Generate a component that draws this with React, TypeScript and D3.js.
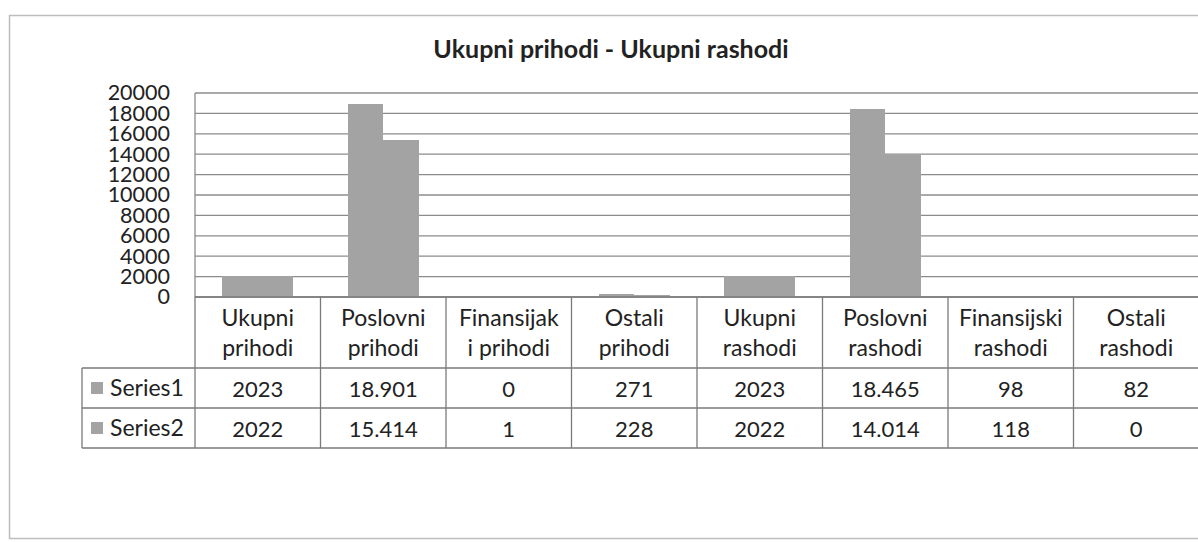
import { useEffect, useRef } from 'react';
import * as d3 from 'd3';

// Categories, as they appear in the data table header (two lines each)
const categories = [
  ['Ukupni', 'prihodi'],
  ['Poslovni', 'prihodi'],
  ['Finansijak', 'i prihodi'],
  ['Ostali', 'prihodi'],
  ['Ukupni', 'rashodi'],
  ['Poslovni', 'rashodi'],
  ['Finansijski', 'rashodi'],
  ['Ostali', 'rashodi'],
];
const seriesNames = ['Series1', 'Series2'];
const series1 = [2023, 18901, 0, 271, 2023, 18465, 98, 82];
const series2 = [2022, 15414, 1, 228, 2022, 14014, 118, 0];
const yTicks = [0, 2000, 4000, 6000, 8000, 10000, 12000, 14000, 16000, 18000, 20000];

const width = 1198;
const height = 542;
const plotLeft = 195;
const plotRight = 1199;
const plotTop = 93;
const plotBottom = 297;
const headerBottom = 368;
const rowH = 40;
const legendLeft = 82;
const font = 'Lato, "Open Sans", sans-serif';
const barColor = '#a3a3a3';
const gridColor = '#8c8c8c';

const grouped = d3.formatLocale({ decimal: ',', thousands: '.', grouping: [3], currency: ['', ''] }).format(',d');
const fmt = (v: number) => (v >= 10000 ? grouped(v) : String(v));

export default function App() {
  const gy = useRef<SVGGElement>(null);
  const keys = categories.map(c => c.join(' '));
  const rows = [series1, series2];

  const x = d3.scaleBand().domain(keys).range([plotLeft, plotRight]);
  const xs = d3.scaleBand().domain(seriesNames).range([0, x.bandwidth()]).paddingOuter(0.77).paddingInner(0);
  const y = d3.scaleLinear().domain([0, 20000]).range([plotBottom, plotTop]);

  useEffect(() => {
    if (gy.current) {
      d3.select(gy.current)
        .call(d3.axisLeft(y).tickValues(yTicks).tickSize(0).tickPadding(25).tickFormat(d => String(d)))
        .call(g => g.select('.domain').remove())
        .call(g => g.selectAll('text').attr('font-family', font).attr('font-size', 21.5).attr('fill', '#222'));
    }
  }, []);

  const cx = (i: number) => (x(keys[i]) ?? 0) + x.bandwidth() / 2;

  return (
    <svg width={width} height={height} style={{ position: 'absolute', left: 0, top: 0, background: '#fff' }}>
      {/* outer chart frame */}
      <rect x={9.5} y={15.5} width={1300} height={523} fill="none" stroke="#bdbdbd" strokeWidth={1.5} />
      <text x={611} y={58} textAnchor="middle" fontFamily={font} fontWeight="bold" fontSize={25} fill="#222">
        Ukupni prihodi - Ukupni rashodi
      </text>

      {/* gridlines */}
      {yTicks.map(t => (
        <line key={t} x1={plotLeft} x2={plotRight} y1={y(t)} y2={y(t)} stroke={gridColor} strokeWidth={1.3} />
      ))}
      <line x1={plotLeft} x2={plotLeft} y1={plotTop} y2={plotBottom} stroke={gridColor} strokeWidth={1.3} />

      {/* bars */}
      <g shapeRendering="crispEdges">
        {rows.map((vals, si) =>
          vals.map((v, i) => {
            const bx = Math.round((x(keys[i]) ?? 0) + (xs(seriesNames[si]) ?? 0));
            const bx2 = Math.round((x(keys[i]) ?? 0) + (xs(seriesNames[si]) ?? 0) + xs.bandwidth());
            return (
              <rect key={`${si}-${i}`} x={bx} y={y(v)} width={bx2 - bx} height={plotBottom - y(v)} fill={barColor} />
            );
          })
        )}
      </g>

      <g ref={gy} transform={`translate(${plotLeft},0)`} />

      {/* data table */}
      <g stroke="#7a7a7a" strokeWidth={1.3} fill="none">
        <line x1={plotLeft} x2={plotRight} y1={plotBottom} y2={plotBottom} />
        {[0, 1, 2].map(r => (
          <line key={r} x1={legendLeft} x2={plotRight} y1={headerBottom + r * rowH} y2={headerBottom + r * rowH} />
        ))}
        <line x1={legendLeft} x2={legendLeft} y1={headerBottom} y2={headerBottom + 2 * rowH} />
        {keys.map(k => (
          <line key={k} x1={x(k)} x2={x(k)} y1={plotBottom} y2={headerBottom + 2 * rowH} />
        ))}
      </g>
      {categories.map((c, i) => (
        <text key={keys[i]} textAnchor="middle" fontFamily={font} fontSize={23} fill="#222">
          <tspan x={cx(i)} y={326}>{c[0]}</tspan>
          <tspan x={cx(i)} y={356}>{c[1]}</tspan>
        </text>
      ))}
      {rows.map((vals, si) => (
        <g key={si}>
          <rect x={91} y={headerBottom + si * rowH + 14} width={12} height={12} fill={barColor} />
          <text x={110} y={headerBottom + si * rowH + 28} fontFamily={font} fontSize={23} fill="#222">
            {seriesNames[si]}
          </text>
          {vals.map((v, i) => (
            <text key={i} x={cx(i)} y={headerBottom + si * rowH + 29} textAnchor="middle" fontFamily={font} fontSize={22} fill="#222">
              {fmt(v)}
            </text>
          ))}
        </g>
      ))}
    </svg>
  );
}
